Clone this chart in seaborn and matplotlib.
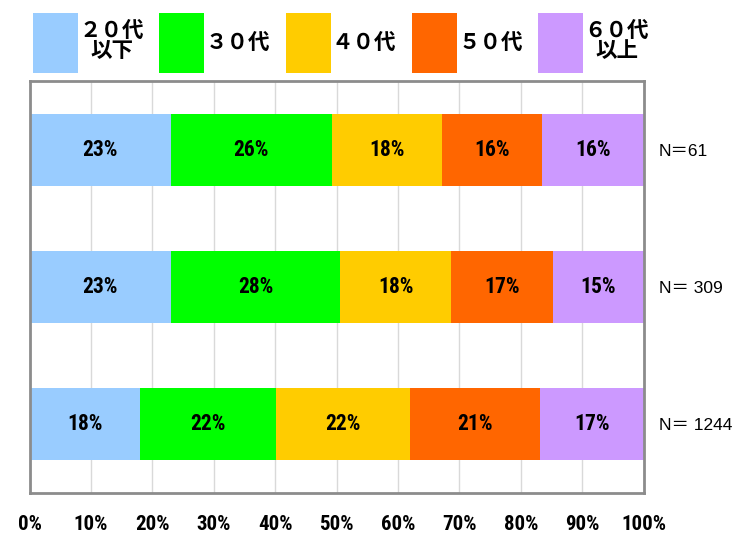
import matplotlib
matplotlib.use("Agg")
import matplotlib.pyplot as plt
import seaborn as sns
import numpy as np
import pandas as pd
from matplotlib.patches import Patch
from matplotlib import font_manager

# ---- data ----
groups = ["N＝61", "N＝ 309", "N＝ 1244"]
ages = ["２０代\n以下", "３０代", "４０代", "５０代", "６０代\n以上"]
v20 = [23.0, 23.0, 18.0]
v30 = [26.2, 27.6, 22.2]
v40 = [17.9, 18.0, 21.8]
v50 = [16.4, 16.6, 21.1]
v60 = [16.5, 14.8, 16.9]
labels20 = ["23%", "23%", "18%"]
labels30 = ["26%", "28%", "22%"]
labels40 = ["18%", "18%", "22%"]
labels50 = ["16%", "17%", "21%"]
labels60 = ["16%", "15%", "17%"]
xticks = [0, 10, 20, 30, 40, 50, 60, 70, 80, 90, 100]
xticklabels = ["0%", "10%", "20%", "30%", "40%", "50%", "60%", "70%", "80%", "90%", "100%"]

colors = ["#99CCFF", "#00FF00", "#FFCC00", "#FF6600", "#CC99FF"]

sns.set_style("white")
plt.rcParams['font.family'] = ['Noto Sans CJK JP', 'DejaVu Sans']
plt.rcParams['text.color'] = 'black'
plt.rcParams['xtick.color'] = 'black'
plt.rcParams['ytick.color'] = 'black'

avail = {f.name for f in font_manager.fontManager.ttflist}
narrow = None
for cand in ["Liberation Sans Narrow", "DejaVu Sans Condensed", "Roboto Condensed", "Open Sans Condensed"]:
    if cand in avail:
        narrow = cand
        break
if narrow is None:
    narrow_fp = dict(family=["DejaVu Sans"], fontstretch="condensed")
else:
    narrow_fp = dict(family=[narrow, "DejaVu Sans"])

fig = plt.figure(figsize=(7.56, 5.36), dpi=100)
ax = fig.add_axes([29.5/756, 1-492.5/536, (643.7-29.5)/756, (492.5-81)/536])

series = [v20, v30, v40, v50, v60]
seg_labels = [labels20, labels30, labels40, labels50, labels60]
cums = np.cumsum(np.array(series), axis=0)

for i in range(len(series) - 1, -1, -1):
    df = pd.DataFrame({"group": groups, "val": cums[i]})
    sns.barplot(data=df, x="val", y="group", orient="h", color=colors[i],
                saturation=1, width=0.525, ax=ax, zorder=2, linewidth=0)

for i in range(len(series)):
    for j in range(len(groups)):
        start = cums[i][j] - series[i][j]
        cx = start + series[i][j] / 2
        ax.text(cx, j, seg_labels[i][j], ha="center", va="center",
                fontsize=15.5, fontweight="bold", color="black", zorder=3, **narrow_fp)

ax.set_xlim(0, 100)
ax.set_ylim(2.5, -0.5)
ax.set_xticks(xticks)
ax.set_xticklabels(xticklabels)
for t in ax.get_xticklabels():
    t.set_fontsize(15)
    t.set_fontweight("bold")
    if narrow is None:
        t.set_family("DejaVu Sans")
        t.set_fontstretch("condensed")
    else:
        t.set_family([narrow, "DejaVu Sans"])
ax.tick_params(axis="x", length=0, pad=16)
ax.grid(axis="x", color="#d9d9d9", linewidth=1, zorder=0)
ax.set_axisbelow(True)
ax.set_xlabel("")
ax.set_ylabel("")

ax.yaxis.tick_right()
ax.set_yticks(range(len(groups)))
ax.set_yticklabels(groups)
for t in ax.get_yticklabels():
    t.set_fontsize(12.5)
    t.set_family(["Liberation Sans", "Noto Sans CJK JP"])
ax.tick_params(axis="y", length=0, pad=11)

for s in ax.spines.values():
    s.set_visible(True)
    s.set_color("#8c8c8c")
    s.set_linewidth(2)

handles = [Patch(facecolor=c, edgecolor="none") for c in colors]
leg = fig.legend(handles, ages, loc="upper left", bbox_to_anchor=(33/756, 1 - 13/536),
                 ncol=5, frameon=False, handlelength=2.1, handleheight=3.92,
                 handletextpad=0.05, columnspacing=0.72, borderaxespad=0, borderpad=0,
                 prop={"family": "Noto Sans CJK JP", "weight": "bold", "size": 15.5},
                 labelspacing=0)
for t in leg.get_texts():
    t.set_multialignment("center")
    t.set_linespacing(0.95)

fig.savefig("out.png", dpi=100)
